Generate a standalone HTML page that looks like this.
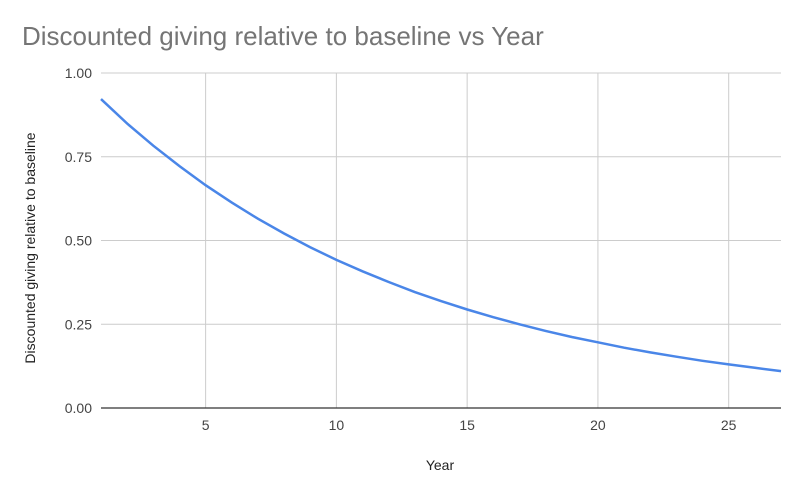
<!DOCTYPE html>
<html><head><meta charset="utf-8"><style>
body{margin:0;background:#fff;}
svg{display:block;font-family:"Liberation Sans",Arial,sans-serif;}
</style></head><body>
<svg id="chart" width="805" height="494">
<rect width="805" height="494" fill="#fff"/>
<text x="22" y="45" font-size="26" fill="#757575">Discounted giving relative to baseline vs Year</text>
<g id="grid"></g>
<g id="xlabels"></g>
<g id="ylabels"></g>
<text x="440" y="470" font-size="14" fill="#222" text-anchor="middle">Year</text>
<text transform="translate(35,248) rotate(-90)" font-size="14" fill="#222" text-anchor="middle">Discounted giving relative to baseline</text>
<path id="series" fill="none" stroke="#4a86e8" stroke-width="2.5"/>
<line x1="101" x2="781" y1="408" y2="408" stroke="#333" stroke-width="1.2"/>
</svg>
<script>
const years=[1,2,3,4,5,6,7,8,9,10,11,12,13,14,15,16,17,18,19,20,21,22,23,24,25,26,27];
const values=[0.922,0.849,0.783,0.722,0.665,0.613,0.565,0.521,0.480,0.442,0.408,0.376,0.346,0.319,0.294,0.271,0.250,0.230,0.212,0.196,0.180,0.166,0.153,0.141,0.130,0.120,0.110];
const xTicks=[5,10,15,20,25];
const yTicks=[0,0.25,0.5,0.75,1];
const yTickLabels=["0.00","0.25","0.50","0.75","1.00"];
const NS="http://www.w3.org/2000/svg";
const X0=101,X1=781,Y0=408,Y1=73;
function xs(v){return X0+(v-1)/(27-1)*(X1-X0);}
function ys(v){return Y0-v/1*(Y0-Y1);}
const grid=document.getElementById('grid'),xl=document.getElementById('xlabels'),yl=document.getElementById('ylabels');
yTicks.forEach((t,i)=>{
 const l=document.createElementNS(NS,'line');
 
 
 l.setAttribute('x1',X0);l.setAttribute('x2',X1);l.setAttribute('y1',ys(t));l.setAttribute('y2',ys(t));
 l.setAttribute('stroke','#ccc');grid.appendChild(l);
 const tx=document.createElementNS(NS,'text');
 
 
 tx.setAttribute('x',92);tx.setAttribute('y',ys(t)+5);tx.setAttribute('text-anchor','end');
 tx.setAttribute('font-size','14');tx.setAttribute('fill','#444');tx.textContent=yTickLabels[i];yl.appendChild(tx);
});
xTicks.forEach(t=>{
 const l=document.createElementNS(NS,'line');
 
 
 l.setAttribute('x1',xs(t));l.setAttribute('x2',xs(t));l.setAttribute('y1',Y1);l.setAttribute('y2',Y0);
 l.setAttribute('stroke','#ccc');grid.appendChild(l);
 const tx=document.createElementNS(NS,'text');
 
 
 tx.setAttribute('x',xs(t));tx.setAttribute('y',430);tx.setAttribute('text-anchor','middle');
 tx.setAttribute('font-size','14');tx.setAttribute('fill','#444');tx.textContent=t;xl.appendChild(tx);
});
document.getElementById('series').setAttribute('d',years.map((y,i)=>(i?'L':'M')+xs(y).toFixed(1)+','+ys(values[i]).toFixed(1)).join(' '));
</script>
</body></html>
